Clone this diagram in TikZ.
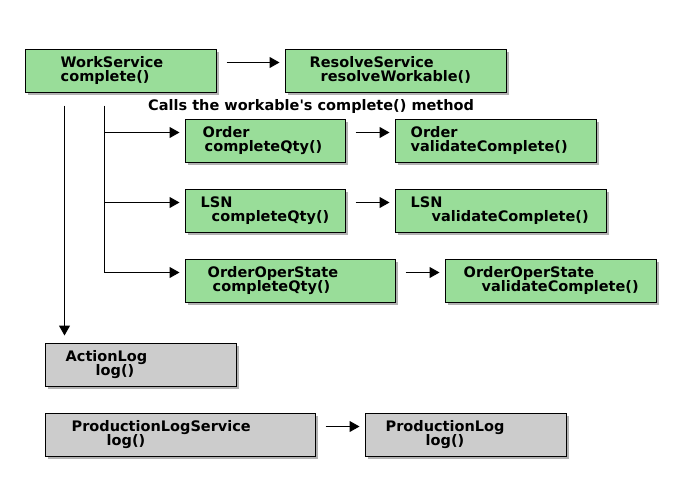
\documentclass[tikz,border=0pt]{standalone}
\usepackage{fontspec}
\setmainfont{DejaVu Sans}
\usepackage{tikz}
\usetikzlibrary{arrows.meta, shadows}
\definecolor{grn}{HTML}{99DD99}
\definecolor{gry}{HTML}{CCCCCC}

\begin{document}
\begin{tikzpicture}[
  x=1pt, y=-1pt,
  font=\fontsize{14.5}{14}\selectfont\bfseries,
  box/.style={rectangle, draw=black, line width=1pt, inner sep=0pt,
    drop shadow={shadow xshift=3pt, shadow yshift=-3pt, opacity=0.3, fill=black}},
  lbl/.style={anchor=base west, inner sep=0pt},
  arr/.style={line width=1pt, -{Triangle[length=10pt, width=11pt]}}
]
  \useasboundingbox[fill=white] (0,0) rectangle (680,490);
  \foreach \n/\xa/\ya/\xb/\yb/\col in {
      ws/25/49/216/92/grn, rs/285/49/506/92/grn,
      ord/185/119/345/162/grn, ordv/395/119/596/162/grn,
      lsn/185/189/345/232/grn, lsnv/395/189/606/232/grn,
      oos/185/259/395/302/grn, oosv/445/259/656/302/grn,
      al/45/343/236/386/gry,
      pls/45/413/315/456/gry, pl/365/413/566/456/gry} {
    \pgfmathsetmacro{\w}{\xb-\xa}
    \pgfmathsetmacro{\h}{\yb-\ya}
    \node[box, fill=\col, minimum width=\w pt, minimum height=\h pt] (\n)
      at ({(\xa+\xb)/2},{(\ya+\yb)/2}) {};
  }
  \foreach \n/\dxa/\la/\dxb/\lb in {
      ws/36/WorkService/36/complete(), rs/25/ResolveService/36/resolveWorkable(),
      ord/18/Order/20/completeQty(), ordv/16/Order/16/validateComplete(),
      lsn/16/LSN/27/completeQty(), lsnv/16/LSN/37/validateComplete(),
      oos/23/OrderOperState/28/completeQty(), oosv/19/OrderOperState/37/validateComplete(),
      al/21/ActionLog/51/log(),
      pls/27/ProductionLogService/62/log(), pl/21/ProductionLog/61/log()} {
    \node[lbl] (\n-a) at ([shift={(\dxa,18.5)}]\n.north west) {\la};
    \node[lbl] (\n-b) at ([shift={(\dxb,32.5)}]\n.north west) {\lb};
  }
  \node[lbl] (note) at (148,110) {Calls the workable\textquotesingle s complete() method};
  \foreach \a/\b in {ws/rs, ord/ordv, lsn/lsnv, oos/oosv, pls/pl} {
    \draw[arr, shorten <=10pt, shorten >=5pt]
      ([yshift=-14pt]\a.north east) -- ([yshift=-14pt]\b.north west);
  }
  \coordinate (down) at ([shift={(40,13)}]ws.south west);
  \coordinate (fork) at ([shift={(80,13)}]ws.south west);
  \draw[arr, shorten >=7pt] (down) -- (down |- al.north);
  \foreach \t in {ord, lsn, oos} {
    \coordinate (\t-in) at ([yshift=-14pt]\t.north west);
    \draw[arr, shorten >=5pt] (fork |- \t-in) -- (\t-in);
  }
  \draw[line width=1pt] (fork) -- (fork |- oos-in);
\end{tikzpicture}
\end{document}
